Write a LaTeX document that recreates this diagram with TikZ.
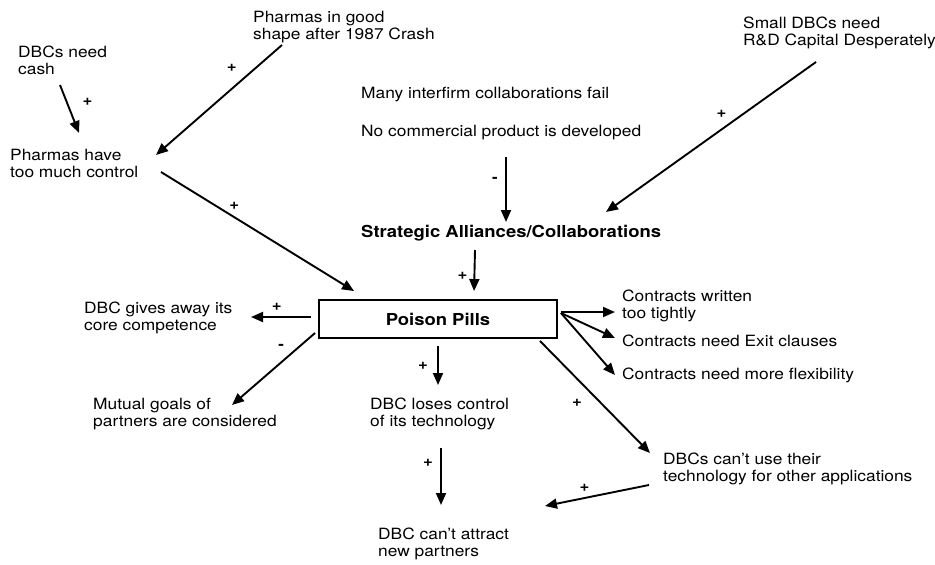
\documentclass[tikz,border=0pt]{standalone}
\usepackage{fontspec}
\setmainfont{TeX Gyre Heros}[FakeStretch=1.12]
\usetikzlibrary{arrows.meta}

\begin{document}
\begin{tikzpicture}[x=1pt, y=-1pt,
    txt/.style={anchor=west, align=left, inner sep=0pt, font=\fontsize{15.5}{17}\selectfont},
    bold/.style={txt, font=\fontsize{16.5}{18}\selectfont\bfseries},
    sign/.style={inner sep=0pt, font=\fontsize{15}{15}\selectfont\bfseries},
    arr/.style={line width=1.9pt, -{Triangle[length=12pt,width=10pt]}}]
    \useasboundingbox (0,0) rectangle (935,565);

    % Causes (top)
    \node[txt] (cash) at (18,60) {DBCs need\\cash};
    \node[txt] (good) at (253,27) {Pharmas in good\\shape after 1987 Crash};
    \node[txt] (ctrl) at (10,163) {Pharmas have\\too much control};
    \node[txt] (fail) at (361,95) {Many interfirm collaborations fail};
    \node[txt] (noprod) at (361,133) {No commercial product is developed};
    \node[txt] (small) at (743,33) {Small DBCs need\\R\&D Capital Desperately};
    \node[bold] (sa) at (361,233) {Strategic Alliances/Collaborations};

    % Poison pills box
    \node[draw, line width=1.9pt, minimum width=238, minimum height=38, inner sep=0pt,
          font=\fontsize{16.5}{18}\selectfont\bfseries] (pp) at (438,319) {Poison Pills};

    % Effects
    \node[txt] (away) at (84,318) {DBC gives away its\\core competence};
    \node[txt] (mutual) at (93,414) {Mutual goals of\\partners are considered};
    \node[txt] (loses) at (370,414) {DBC loses control\\of its technology};
    \node[txt] (tight) at (622,306) {Contracts written\\too tightly};
    \node[txt] (exit) at (622,341) {Contracts need Exit clauses};
    \node[txt] (flex) at (622,375) {Contracts need more flexibility};
    \node[txt] (apps) at (663,469) {DBCs can't use their\\technology for other applications};
    \node[txt] (attract) at (378,544) {DBC can't attract\\new partners};

    % Edges into pharmas / alliances
    \draw[arr] ([shift={(42,25)}]cash.west) -- ([shift={(69,-30)}]ctrl.west)
        node[sign, pos=0.35, xshift=21] (s1) {+};
    \draw[arr] ([shift={(29,18)}]good.west) -- ([shift={(146,-8)}]ctrl.west)
        node[sign, pos=0.2, xshift=-25, yshift=-1] (s2) {+};
    \draw[arr] ([shift={(151,9)}]ctrl.west) -- ([shift={(36,-8)}]pp.north west)
        node[sign, pos=0.38, yshift=11] (s3) {+};
    \draw[arr] ([shift={(145,24)}]noprod.west) -- ([shift={(145,-11)}]sa.west)
        node[sign, pos=0.35, xshift=-11] (s4) {-};
    \draw[arr] ([shift={(73,29)}]small.west) -- ([shift={(245,-21)}]sa.west)
        node[sign, pos=0.45, yshift=16] (s5) {+};
    \draw[arr] ([shift={(114,17)}]sa.west) -- ([shift={(156,-8)}]pp.north west)
        node[sign, pos=0.62, xshift=-12] (s6) {+};

    % Edges out of poison pills
    \draw[arr] ([shift={(-7,-2)}]pp.west) -- ([shift={(167,-1)}]away.west)
        node[sign, pos=0.57, yshift=10] (s7) {+};
    \draw[arr] ([shift={(-3,14)}]pp.west) -- ([shift={(139,-9)}]mutual.west)
        node[sign, pos=0.3, xshift=-9, yshift=8] (s8) {-};
    \draw[arr] ([shift={(0,7)}]pp.south) -- ([shift={(68,-29)}]loses.west)
        node[sign, pos=0.5, xshift=-15] (s9) {+};
    \draw[arr] ([shift={(3,-7)}]pp.east) -- ([shift={(-7,6)}]tight.west);
    \draw[arr] ([shift={(3,-6)}]pp.east) -- ([shift={(-7,-3)}]exit.west);
    \draw[arr] ([shift={(3,-6)}]pp.east) -- ([shift={(-7,0)}]flex.west);
    \draw[arr] ([shift={(-18,2)}]pp.south east) -- ([shift={(-13,-16)}]apps.west)
        node[sign, pos=0.5, xshift=-18, yshift=-6] (s13) {+};

    % Edges into attract
    \draw[arr] ([shift={(-14,16)}]apps.west) -- ([shift={(167,-38)}]attract.west)
        node[sign, pos=0.62, yshift=10] (s14) {+};
    \draw[arr] ([shift={(71,34)}]loses.west) -- ([shift={(63,-39)}]attract.west)
        node[sign, pos=0.26, xshift=-13] (s15) {+};
\end{tikzpicture}
\end{document}
